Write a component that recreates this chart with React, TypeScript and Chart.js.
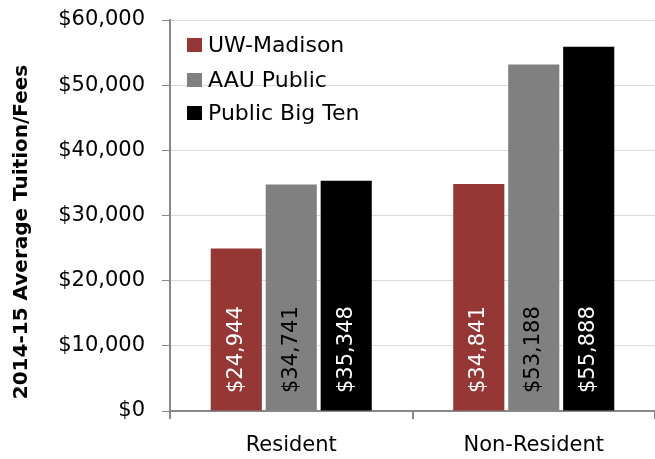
import React, { useEffect, useRef } from 'react';
import { Chart, registerables } from 'chart.js';

Chart.register(...registerables);

const categories = ['Resident', 'Non-Resident'];
const seriesNames = ['UW-Madison', 'AAU Public', 'Public Big Ten'];
const uwMadison = [24944, 34841];
const aauPublic = [34741, 53188];
const publicBigTen = [35348, 55888];
const seriesColors = ['#953735', '#808080', '#000000'];
const labelColors = ['#ffffff', '#000000', '#ffffff'];
const yAxisTitle = '2014-15 Average Tuition/Fees';
const yMin = 0;
const yMax = 60000;
const yStep = 10000;

const FONT = '"DejaVu Sans", sans-serif';

const fmt = (v: number) => '$' + Math.round(v).toLocaleString('en-US');

const customPlugin = {
  id: 'custom',
  afterDatasetsDraw(chart: any) {
    const ctx = chart.ctx;
    const yScale = chart.scales.y;
    const base = yScale.getPixelForValue(0);
    chart.data.datasets.forEach((ds: any, di: number) => {
      const meta = chart.getDatasetMeta(di);
      meta.data.forEach((bar: any, i: number) => {
        ctx.save();
        ctx.translate(bar.x, base - 18);
        ctx.rotate(-Math.PI / 2);
        ctx.font = `21px ${FONT}`;
        ctx.fillStyle = labelColors[di];
        ctx.textAlign = 'left';
        ctx.textBaseline = 'middle';
        ctx.fillText(fmt(ds.data[i]), 0, 0);
        ctx.restore();
      });
    });
  },
  afterDraw(chart: any) {
    const ctx = chart.ctx;
    const area = chart.chartArea;
    const rowCenters = [45, 80, 113];
    chart.data.datasets.forEach((ds: any, di: number) => {
      const cy = rowCenters[di];
      ctx.save();
      ctx.fillStyle = ds.backgroundColor;
      ctx.fillRect(area.left + 17, cy - 7, 15, 14);
      ctx.font = `22px ${FONT}`;
      ctx.fillStyle = '#000';
      ctx.textAlign = 'left';
      ctx.textBaseline = 'middle';
      ctx.fillText(ds.label, area.left + 38, cy + 1);
      ctx.restore();
    });
    ctx.save();
    ctx.translate(22, 232);
    ctx.rotate(-Math.PI / 2);
    ctx.font = `bold 20px ${FONT}`;
    ctx.fillStyle = '#000';
    ctx.textAlign = 'center';
    ctx.textBaseline = 'middle';
    ctx.fillText(yAxisTitle, 0, 0);
    ctx.restore();
  },
};

export default function App() {
  const ref = useRef<HTMLCanvasElement | null>(null);
  useEffect(() => {
    if (!ref.current) return;
    const seriesData = [uwMadison, aauPublic, publicBigTen];
    const chart = new Chart(ref.current, {
      type: 'bar',
      data: {
        labels: categories,
        datasets: seriesNames.map((name, i) => ({
          label: name,
          data: seriesData[i],
          backgroundColor: seriesColors[i],
          categoryPercentage: 0.68,
          barPercentage: 0.93,
        })),
      },
      options: {
        responsive: false,
        animation: false,
        devicePixelRatio: 1,
        layout: { padding: { top: 20, right: 0, left: 0, bottom: 0 } },
        plugins: {
          legend: { display: false },
          tooltip: { enabled: false },
        },
        scales: {
          x: {
            afterFit: (s: any) => { s.height = 48; s.paddingLeft = 0; s.paddingRight = 0; },
            grid: {
              drawOnChartArea: false,
              tickLength: 8,
              tickColor: '#888888',
              lineWidth: 2,
            },
            border: { color: '#888888', width: 2 },
            ticks: {
              color: '#000',
              padding: 14,
              font: { family: FONT, size: 21 },
            },
          },
          y: {
            min: yMin,
            max: yMax,
            afterFit: (s: any) => { s.width = 170; s.paddingTop = 0; s.paddingBottom = 0; },
            grid: {
              color: '#d9d9d9',
              tickColor: '#888888',
              tickLength: 8,
              lineWidth: 1,
            },
            border: { color: '#888888', width: 2 },
            ticks: {
              stepSize: yStep,
              color: '#000',
              padding: 17,
              font: { family: FONT, size: 21 },
              callback: (v: any) => fmt(Number(v)),
            },
          },
        },
      },
      plugins: [customPlugin],
    });
    return () => chart.destroy();
  }, []);
  return (
    <div style={{ position: 'fixed', left: 0, top: 0, width: 655, height: 459 }}>
      <canvas ref={ref} width={655} height={459} />
    </div>
  );
}
